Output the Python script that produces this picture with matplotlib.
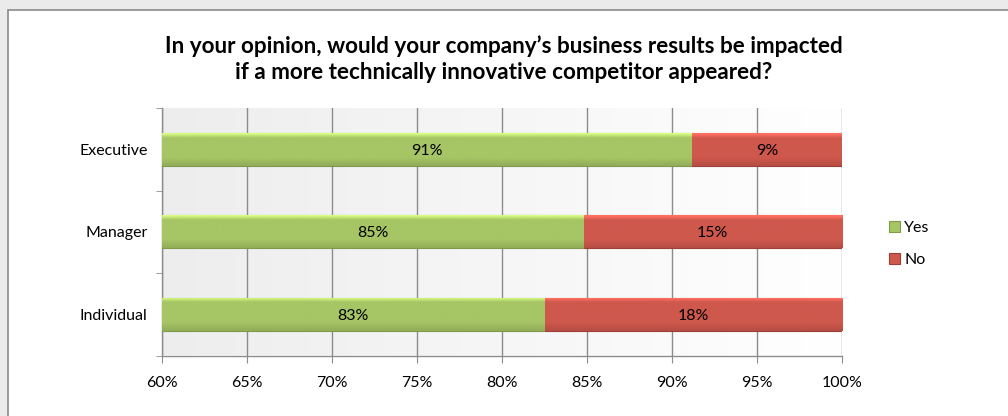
import matplotlib
matplotlib.use("Agg")
import matplotlib.pyplot as plt
import numpy as np
from matplotlib.patches import Rectangle
from matplotlib.colors import to_rgb

plt.rcParams['font.family'] = ['Lato', 'DejaVu Sans']

categories = ["Executive", "Manager", "Individual"]
yes_vals = [91.2, 84.8, 82.5]
no_vals = [8.8, 15.2, 17.5]
series_names = ["Yes", "No"]
x_ticks = [60, 65, 70, 75, 80, 85, 90, 95, 100]
title = ("In your opinion, would your company\u2019s business results be impacted\n"
         "if a more technically innovative competitor appeared?")

GREEN = "#a6c565"
RED = "#cf584d"
W, H = 1008, 416
FS = 11.5

fig = plt.figure(figsize=(W / 100, H / 100), dpi=100)
fig.patch.set_facecolor("#ebebeb")

# chart frame (white panel with grey border)
frame = Rectangle((8 / W, -0.05), 1.0, (H - 9.5) / H + 0.05, transform=fig.transFigure,
                  facecolor="white", edgecolor="#8a8a8a", linewidth=1.2, zorder=-5)
fig.patches.append(frame)

ax = fig.add_axes([162 / W, 60.5 / H, 680 / W, 247.5 / H])
ax.set_facecolor("none")
ax.set_zorder(2)

# light horizontal gradient behind the bars
bg = np.linspace(0.93, 1.0, 256)[None, :]
ax.imshow(np.dstack([bg, bg, bg]), extent=[60, 100, 2.5, -0.5], aspect="auto",
          zorder=0, interpolation="bilinear")

y = np.arange(len(categories))
bar_h = 0.4
yes_bars = ax.barh(y, np.array(yes_vals) - 60, left=60, height=bar_h,
                   color=GREEN, edgecolor="#7f9a48", linewidth=0.8, zorder=3,
                   label=series_names[0])
no_bars = ax.barh(y, no_vals, left=yes_vals, height=bar_h,
                  color=RED, edgecolor="#9e3e36", linewidth=0.8, zorder=3,
                  label=series_names[1])


def shade(patch, base):
    r, g, b = to_rgb(base)
    t = np.linspace(0, 1, 64)
    # bright rim along the top, darker towards the bottom edge
    f = np.where(t < 0.14, 1.32 - t * 2.3, 1.0 - np.clip(t - 0.75, 0, None) * 0.5)
    col = np.clip(np.stack([r * f, g * f, b * f], axis=-1), 0, 1)[:, None, :]
    x0, y0 = patch.get_x(), patch.get_y()
    w, h = patch.get_width(), patch.get_height()
    im = ax.imshow(col, extent=[x0, x0 + w, y0 + h, y0], aspect="auto",
                   zorder=3.5, interpolation="bilinear")
    im.set_clip_path(patch)


for p in yes_bars:
    shade(p, GREEN)
for p in no_bars:
    shade(p, RED)


def pct(v):
    return f"{int(np.floor(v + 0.5))}%"


for i in range(len(categories)):
    ax.text((60 + yes_vals[i]) / 2, y[i], pct(yes_vals[i]), ha="center",
            va="center_baseline", fontsize=FS, color="black", zorder=5)
    ax.text(yes_vals[i] + no_vals[i] / 2, y[i], pct(no_vals[i]), ha="center",
            va="center_baseline", fontsize=FS, color="black", zorder=5)

ax.set_xlim(60, 100)
ax.set_ylim(2.5, -0.5)
ax.set_xticks(x_ticks)
ax.set_xticklabels([f"{t}%" for t in x_ticks], fontsize=FS)
ax.xaxis.grid(True, color="#8c8c8c", linewidth=1.0, zorder=1)
ax.set_axisbelow(True)

ax.set_yticks(y)
ax.set_yticklabels(categories, fontsize=FS)
ax.set_yticks([-0.5, 0.5, 1.5, 2.5], minor=True)
ax.tick_params(axis="y", which="major", length=0, pad=10.5)
ax.tick_params(axis="y", which="minor", length=4, color="#8c8c8c", direction="out")
ax.tick_params(axis="x", length=5, color="#8c8c8c", pad=10)

for s in ["top", "right"]:
    ax.spines[s].set_visible(False)
for s in ["left", "bottom"]:
    ax.spines[s].set_color("#8c8c8c")
    ax.spines[s].set_linewidth(1.0)

fig.text(504 / W, 1 - 59 / H, title, ha="center", va="center", fontsize=16.2,
         fontweight="bold", linespacing=1.25)

leg = fig.legend(handles=[yes_bars, no_bars], labels=series_names,
                 loc="center left", bbox_to_anchor=(881 / W, 1 - 244 / H),
                 frameon=False, fontsize=FS, handlelength=0.7, handleheight=0.7,
                 handletextpad=0.25, labelspacing=1.1, borderpad=0)

fig.savefig("out.png", dpi=100, facecolor=fig.get_facecolor())
